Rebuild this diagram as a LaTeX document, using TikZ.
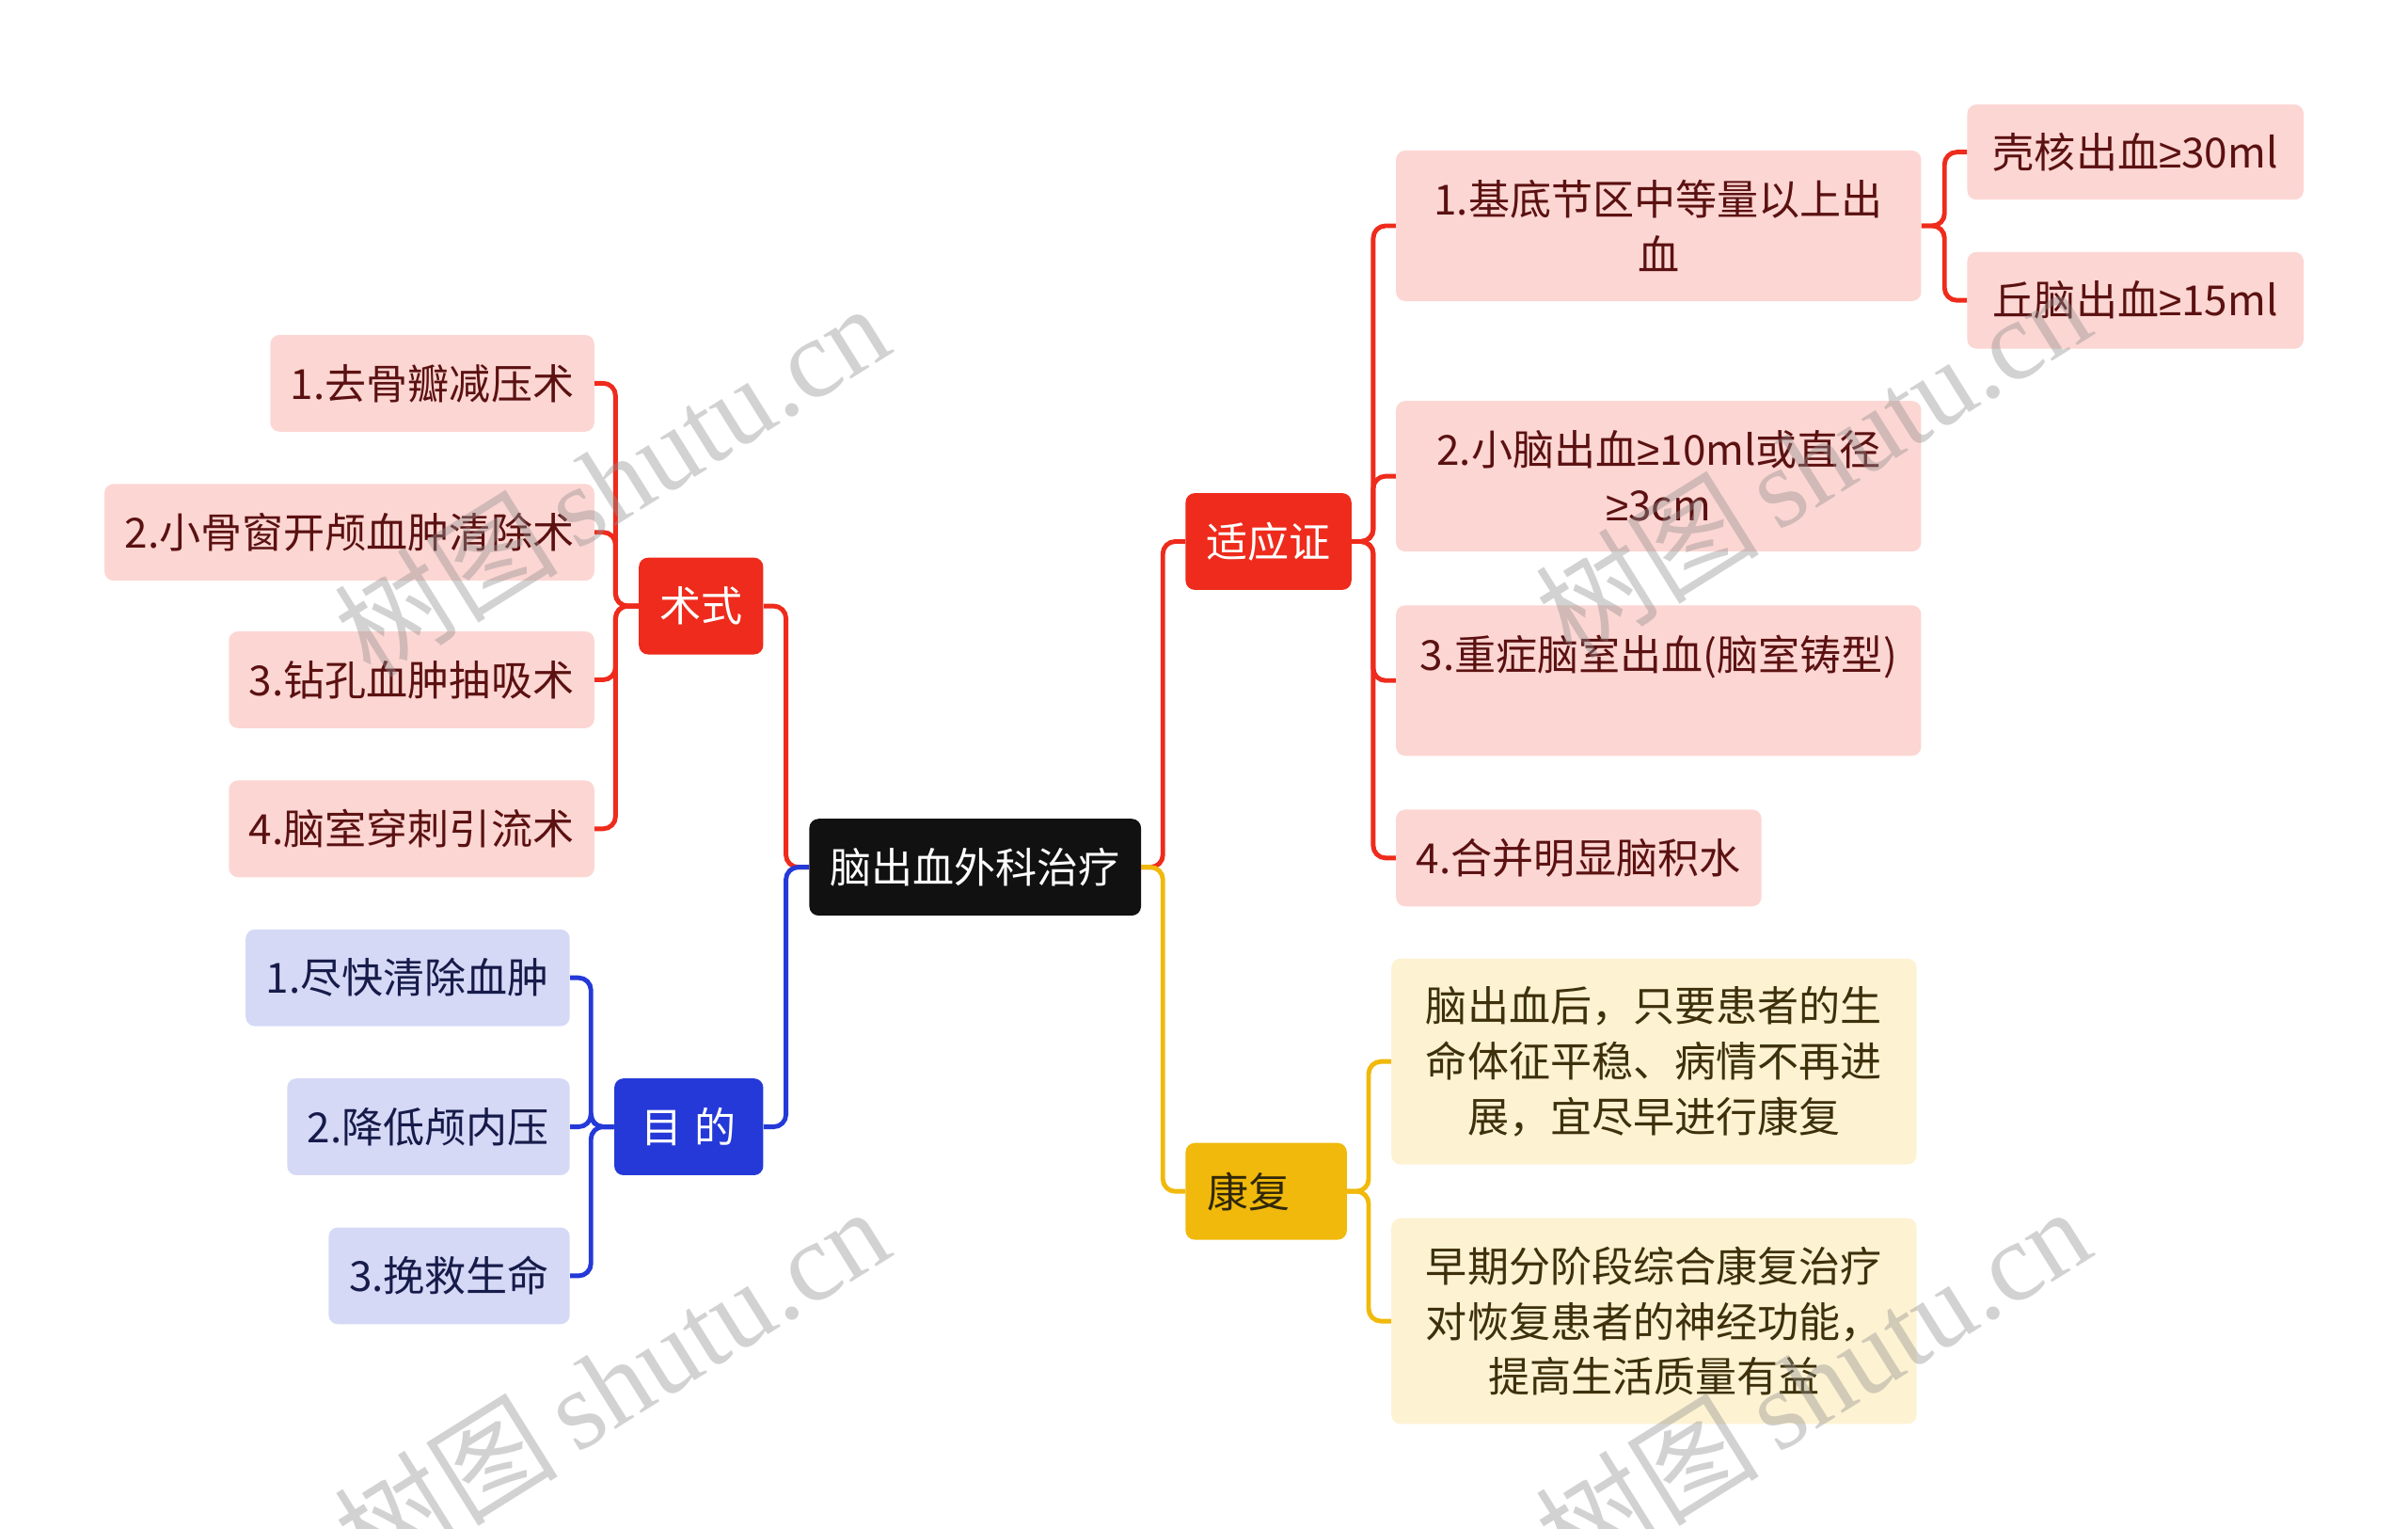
\documentclass[tikz,border=0pt]{standalone}
\usepackage{fontspec}
\setmainfont{Noto Sans CJK SC}
\newfontfamily\wmserif{Liberation Serif}
\newfontfamily\geqfont{Liberation Sans}
\newcommand\gq{{\geqfont ≥}}
\usetikzlibrary{positioning}
\definecolor{rootc}{HTML}{111111}
\definecolor{redc}{HTML}{EE2B1C}
\definecolor{pinkc}{HTML}{FCD6D3}
\definecolor{pinktx}{HTML}{5B1111}
\definecolor{bluec}{HTML}{2439D8}
\definecolor{lavc}{HTML}{D5D9F6}
\definecolor{lavtx}{HTML}{161B4A}
\definecolor{yelc}{HTML}{F0B90B}
\definecolor{creamc}{HTML}{FDF2D2}
\definecolor{creamtx}{HTML}{3D300B}
\definecolor{wmc}{HTML}{8E8E8E}
\newcommand\mmfont{\fontsize{27}{36}\selectfont}
\begin{document}
\begin{tikzpicture}[x=1pt,y=-1pt,
  base/.style={rounded corners=6pt, inner sep=0pt, align=center, font=\mmfont},
  rootbox/.style={base, fill=rootc, text=white},
  redbox/.style={base, fill=redc, text=white},
  bluebox/.style={base, fill=bluec, text=white},
  yelbox/.style={base, fill=yelc, text=creamtx!80!black},
  pinkbox/.style={base, fill=pinkc, text=pinktx},
  lavbox/.style={base, fill=lavc, text=lavtx},
  creambox/.style={base, fill=creamc, text=creamtx},
  conn/.style={line width=3pt, rounded corners=8pt},
  redline/.style={conn, draw=redc},
  blueline/.style={conn, draw=bluec},
  yelline/.style={conn, draw=yelc},
  wm/.style={text=wmc, opacity=0.4, rotate=32, inner sep=0pt}
]
\useasboundingbox (0,0) rectangle (1568,995.3);

% root and main branches
\node[rootbox, minimum width=216pt, minimum height=63pt] (root) at (635,564.5) {脑出血外科治疗};
\node[redbox, minimum width=81pt, minimum height=63pt] (shushi) at (456.5,394.5) {术式};
\node[bluebox, minimum width=97pt, minimum height=63pt] (mudi) at (448.5,733.5) {目\hspace{0.3em}的};
\node[redbox, minimum width=108pt, minimum height=63pt] (syz) at (826,352.5) {适应证};
\node[yelbox, minimum width=105pt, minimum height=63pt, text width=77pt, align=left] (kf) at (824.5,775.5) {康复};

% 术式 children
\node[pinkbox, minimum width=211pt, minimum height=63pt] (c1) at (281.5,249.5) {1.去骨瓣减压术};
\node[pinkbox, minimum width=319pt, minimum height=63pt] (c2) at (227.5,346.5) {2.小骨窗开颅血肿清除术};
\node[pinkbox, minimum width=238pt, minimum height=63pt] (c3) at (268,442.5) {3.钻孔血肿抽吸术};
\node[pinkbox, minimum width=238pt, minimum height=63pt] (c4) at (268,539.5) {4.脑室穿刺引流术};

% 目的 children
\node[lavbox, minimum width=211pt, minimum height=63pt] (m1) at (265.5,636.5) {1.尽快清除血肿};
\node[lavbox, minimum width=184pt, minimum height=63pt] (m2) at (279,733.5) {2.降低颅内压};
\node[lavbox, minimum width=157pt, minimum height=63pt] (m3) at (292.5,830.5) {3.挽救生命};

% 适应证 children
\node[pinkbox, minimum width=342pt, minimum height=98pt] (r1) at (1080,147) {1.基底节区中等量以上出\\血};
\node[pinkbox, minimum width=342pt, minimum height=98pt] (r2) at (1080,310) {2.小脑出血\gq 10ml或直径\\\gq 3cm};
\node[pinkbox, minimum width=342pt, minimum height=98pt] (r3) at (1080,443) {3.重症脑室出血(脑室铸型)\\\mbox{}};
\node[pinkbox, minimum width=238pt, minimum height=63pt] (r4) at (1028,558.5) {4.合并明显脑积水};
\node[pinkbox, minimum width=219pt, minimum height=62pt] (s1) at (1390.5,99) {壳核出血\gq 30ml};
\node[pinkbox, minimum width=219pt, minimum height=63pt] (s2) at (1390.5,195.5) {丘脑出血\gq 15ml};

% 康复 children
\node[creambox, minimum width=342pt, minimum height=134pt] (k1) at (1077,691) {脑出血后，只要患者的生\\命体征平稳、病情不再进\\展，宜尽早进行康复};
\node[creambox, minimum width=342pt, minimum height=134pt] (k2) at (1077,860) {早期分阶段综合康复治疗\\对恢复患者的神经功能，\\提高生活质量有益};

% connectors
\draw[redline] (root.west) -- ++(-15,0) |- (shushi.east);
\draw[redline] (root.east) -- ++(14,0) |- (syz.west);
\draw[blueline] (root.west) -- ++(-15,0) |- (mudi.east);
\draw[yelline] (root.east) -- ++(14,0) |- (kf.west);

\foreach \c in {c1,c2,c3,c4}
  \draw[redline] (shushi.west) -- ++(-15,0) |- (\c.east);
\foreach \c in {m1,m2,m3}
  \draw[blueline] (mudi.west) -- ++(-15,0) |- (\c.east);
\foreach \c in {r1,r2,r3,r4}
  \draw[redline] (syz.east) -- ++(14,0) |- (\c.west);
\foreach \c in {s1,s2}
  \draw[redline] (r1.east) -- ++(15,0) |- (\c.west);
\foreach \c in {k1,k2}
  \draw[yelline] (kf.east) -- ++(14,0) |- (\c.west);

% watermarks
\node[wm] (w1) at (398,312) {\fontsize{73}{73}\selectfont 树图\,{\wmserif shutu.cn}};
\node[wm] (w2) at (1180,300) {\fontsize{73}{73}\selectfont 树图\,{\wmserif shutu.cn}};
\node[wm] (w3) at (398,900) {\fontsize{73}{73}\selectfont 树图\,{\wmserif shutu.cn}};
\node[wm] (w4) at (1180,900) {\fontsize{73}{73}\selectfont 树图\,{\wmserif shutu.cn}};
\end{tikzpicture}
\end{document}
